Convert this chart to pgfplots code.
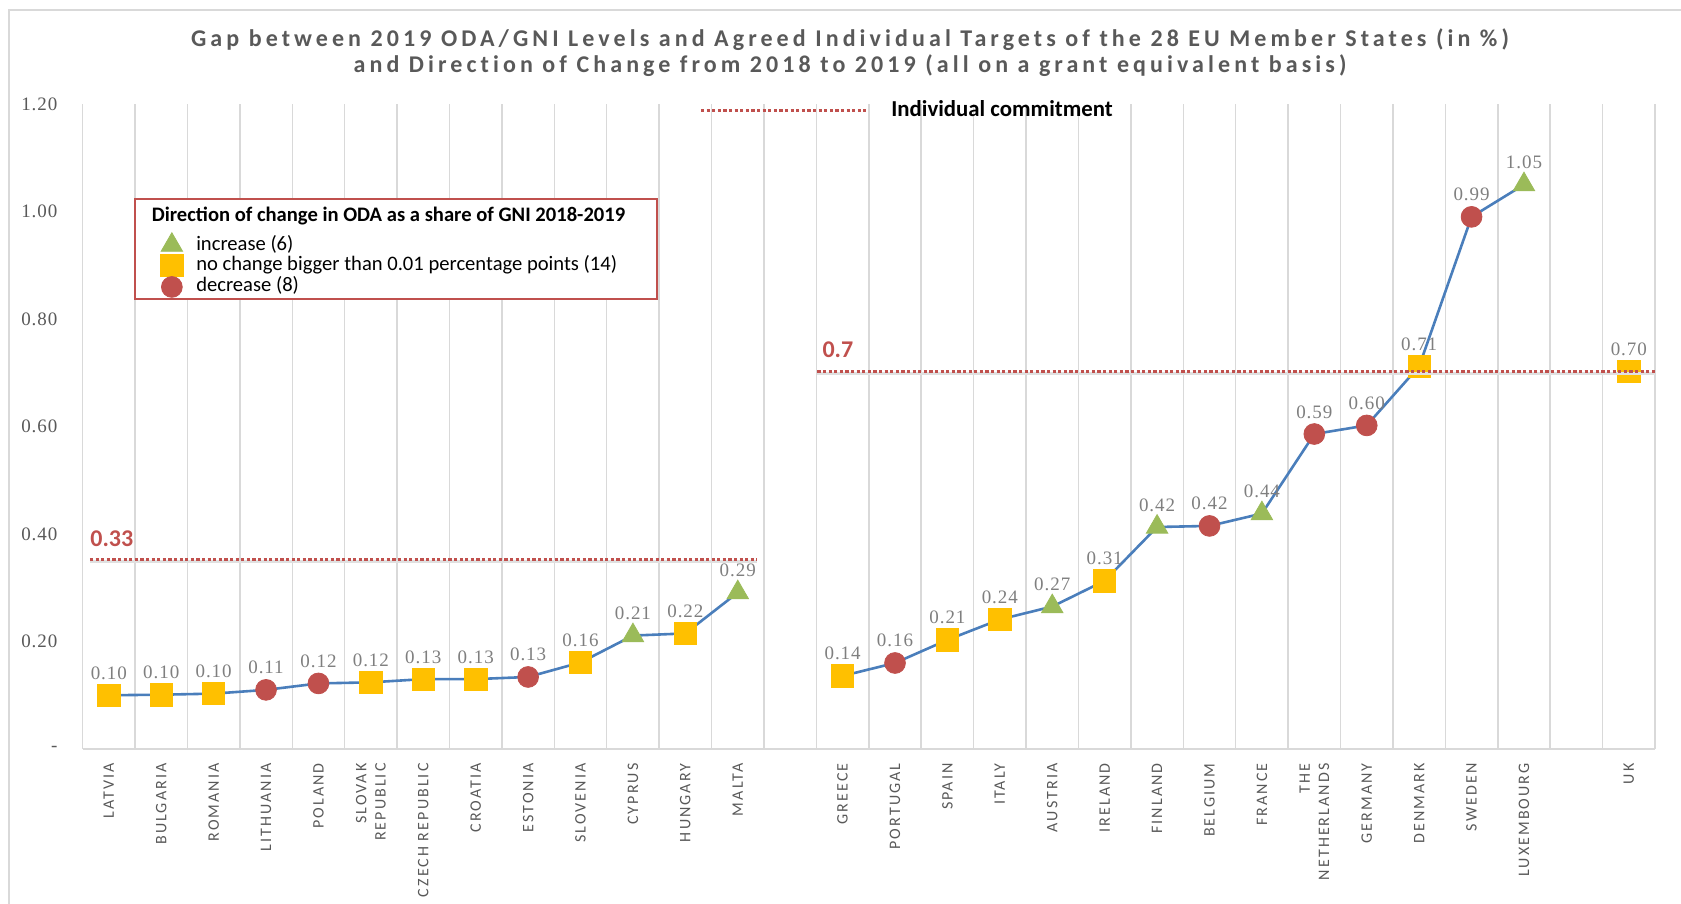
\documentclass[border=0pt]{standalone}
\usepackage{pgfplots}
\pgfplotsset{compat=1.18}
\usepackage{pgfplotstable}
\usepackage{fontspec}
\setmainfont{Carlito}
\newfontfamily\numfont[LetterSpace=5]{Liberation Serif}
\newfontfamily\catfont[LetterSpace=13,Ligatures=NoCommon]{Carlito}
\newfontfamily\titlefont[LetterSpace=17,Ligatures=NoCommon]{Carlito}
\definecolor{linebl}{HTML}{4A7EBB}
\definecolor{sqc}{HTML}{FFC000}
\definecolor{cic}{HTML}{C0504D}
\definecolor{trc}{HTML}{9BBB59}
\definecolor{tgt}{HTML}{C0504D}
\definecolor{txtg}{HTML}{595959}
\definecolor{lblg}{HTML}{7F7F7F}
\definecolor{gridg}{HTML}{D9D9D9}

% ODA/GNI 2019 values along the line (nan = gap between groups)
\pgfplotstableread{
x y
0 0.100
1 0.101
2 0.103
3 0.110
4 0.122
5 0.124
6 0.130
7 0.130
8 0.134
9 0.161
10 0.211
11 0.215
12 0.291
13 nan
14 0.136
15 0.160
16 0.203
17 0.241
18 0.265
19 0.313
20 0.413
21 0.415
22 0.438
23 0.586
24 0.602
25 0.712
26 0.990
27 1.050
28 nan
29 0.702
}\lineT

% increase
\pgfplotstableread{
x y lab
10 0.211 0.21
12 0.291 0.29
18 0.265 0.27
20 0.413 0.42
22 0.438 0.44
27 1.050 1.05
}\incT

% no change
\pgfplotstableread{
x y lab
0 0.100 0.10
1 0.101 0.10
2 0.103 0.10
5 0.124 0.12
6 0.130 0.13
7 0.130 0.13
9 0.161 0.16
11 0.215 0.22
14 0.136 0.14
16 0.203 0.21
17 0.241 0.24
19 0.313 0.31
25 0.712 0.71
29 0.702 0.70
}\sameT

% decrease
\pgfplotstableread{
x y lab
3 0.110 0.11
4 0.122 0.12
8 0.134 0.13
15 0.160 0.16
21 0.415 0.42
23 0.586 0.59
24 0.602 0.60
26 0.990 0.99
}\decT

\begin{document}
\begin{tikzpicture}
\path[use as bounding box] (0,0) rectangle (840.5pt,452pt);
\draw[gridg, line width=1pt] (4.5pt,0) -- (4.5pt,447pt) -- (840.5pt,447pt);

\node[align=center, text=txtg, font=\titlefont\bfseries\fontsize{12}{12.9}\selectfont] at (425pt,425.8pt)
 {Gap between 2019 ODA/GNI Levels and Agreed Individual Targets of the 28 EU Member States (in \%)\\
  and Direction of Change from 2018 to 2019 (all on a grant equivalent basis)};

\begin{axis}[
  at={(41.3pt,77.5pt)}, anchor=south west,
  scale only axis, width=786.2pt, height=322.5pt,
  xmin=-0.5, xmax=29.5, ymin=0, ymax=1.2,
  clip=false,
  axis x line*=bottom, axis y line*=left,
  axis line style={gridg, line width=0.9pt, -},
  xtick={0,...,29},
  xticklabels={LATVIA, BULGARIA, ROMANIA, LITHUANIA, POLAND, {SLOVAK\\REPUBLIC}, CZECH REPUBLIC, CROATIA, ESTONIA, SLOVENIA, CYPRUS, HUNGARY, MALTA, {}, GREECE, PORTUGAL, SPAIN, ITALY, AUSTRIA, IRELAND, FINLAND, BELGIUM, FRANCE, {THE\\NETHERLANDS}, GERMANY, DENMARK, SWEDEN, LUXEMBOURG, {}, UK},
  xticklabel style={rotate=90, anchor=east, align=right, inner sep=0pt, text=txtg, font=\catfont\fontsize{8}{9.6}\selectfont},
  xticklabel shift=7pt,
  minor xtick={-0.5,0.5,...,29.5},
  xminorgrids, minor grid style={gridg, line width=0.75pt},
  major tick length=0pt, minor tick length=0pt,
  ytick={0,0.2,0.4,0.6,0.8,1.0,1.2},
  yticklabels={{-\hspace{3.6pt}},0.20,0.40,0.60,0.80,1.00,1.20},
  yticklabel style={inner sep=0pt, text=txtg, font=\numfont\fontsize{9.5}{11}\selectfont},
  yticklabel shift=12.4pt,
  legend style={at={(0.0494,0.8010)}, anchor=north west, draw=none, fill=none,
    inner sep=0pt, row sep=0pt, column sep=6.6pt,
    font=\fontsize{10.3}{12}\selectfont,
    nodes={inner sep=0pt, text height=7pt, text depth=2pt},
    cells={anchor=west}},
  legend image code/.code={\draw[mark repeat=2,mark phase=2,#1] plot coordinates {(0pt,0pt) (6pt,0pt) (12pt,0pt)};},
  every node near coord/.style={anchor=base, yshift=8pt, inner sep=0pt, text=lblg, font=\numfont\fontsize{9.5}{11}\selectfont},
]
% legend frame
\draw[cic, line width=0.8pt, fill=white] (axis description cs:0.0333,0.8527) rectangle (axis description cs:0.3653,0.6977);
\node[anchor=west, inner sep=0pt, font=\bfseries\fontsize{10.3}{12}\selectfont] at (axis description cs:0.0438,0.8256) {Direction of change in ODA as a share of GNI 2018-2019};

\addplot[linebl, line width=1.3pt, no marks, unbounded coords=jump, forget plot] table[x=x,y=y] {\lineT};

\addplot[only marks, mark=triangle*, mark size=6.2pt, color=trc, mark options={fill=trc, draw=trc},
  point meta=explicit symbolic, nodes near coords] table[x=x,y=y,meta=lab] {\incT};
\addlegendentry{increase (6)}
\addplot[only marks, mark=square*, mark size=5.6pt, color=sqc, mark options={fill=sqc, draw=sqc},
  point meta=explicit symbolic, nodes near coords] table[x=x,y=y,meta=lab] {\sameT};
\addlegendentry{no change bigger than 0.01 percentage points (14)}
\addplot[only marks, mark=*, mark size=5.2pt, color=cic, mark options={fill=cic, draw=cic},
  point meta=explicit symbolic, nodes near coords] table[x=x,y=y,meta=lab] {\decT};
\addlegendentry{decrease (8)}
\end{axis}

\begin{axis}[
  at={(41.3pt,77.5pt)}, anchor=south west,
  scale only axis, width=786.2pt, height=322.5pt,
  xmin=-0.5, xmax=29.5, ymin=0, ymax=1.2,
  hide axis, clip=false,
  legend style={at={(0.392,0.990)}, anchor=west, draw=none, fill=none,
    inner sep=0pt, column sep=11.8pt,
    font=\bfseries\fontsize{11.4}{13}\selectfont,
    nodes={inner sep=0pt}},
  legend image code/.code={\draw[#1] (0pt,0pt) -- (82.5pt,0pt);},
]
% soft shadows under the target lines
\addplot[black!12, line width=1.6pt, forget plot, yshift=-1.1pt] coordinates {(-0.36,0.3526) (12.37,0.3526)};
\addplot[black!12, line width=1.6pt, forget plot, yshift=-1.1pt] coordinates {(13.52,0.702) (29.5,0.702)};
\addplot[tgt, line width=1.7pt, dash pattern=on 1.6pt off 1.2pt] coordinates {(-0.36,0.3526) (12.37,0.3526)};
\addlegendentry{Individual commitment}
\addplot[tgt, line width=1.7pt, dash pattern=on 1.6pt off 1.2pt, forget plot] coordinates {(13.52,0.702) (29.5,0.702)};
\node[anchor=west, inner sep=0pt, text=tgt, font=\bfseries\fontsize{12}{14}\selectfont] at (axis cs:-0.36,0.391) {0.33};
\node[anchor=west, inner sep=0pt, text=tgt, font=\bfseries\fontsize{12}{14}\selectfont] at (axis cs:13.61,0.743) {0.7};
\end{axis}
\end{tikzpicture}
\end{document}
